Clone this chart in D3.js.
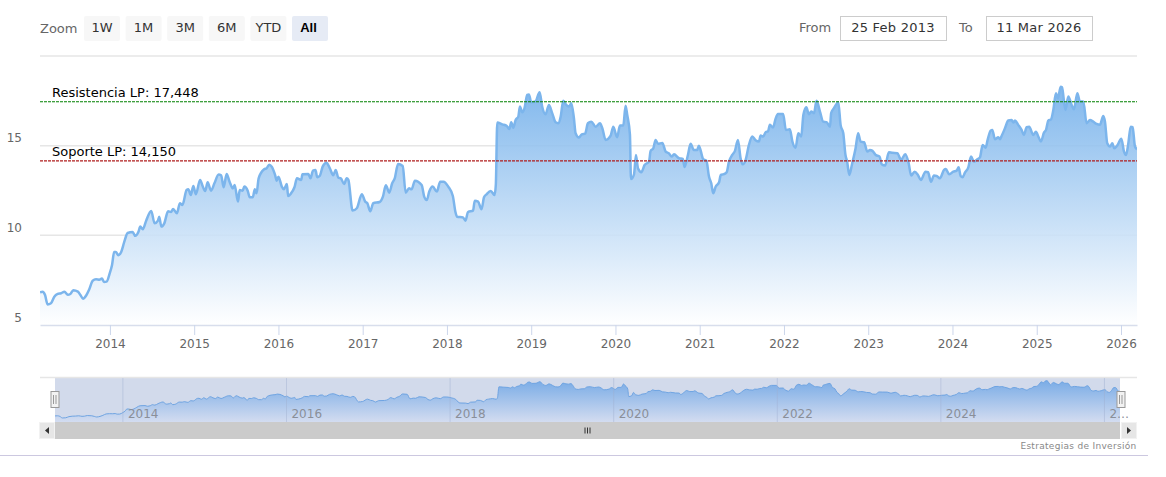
<!DOCTYPE html>
<html lang="en">
<head>
<meta charset="utf-8">
<title>Soporte y Resistencia</title>
<script src="https://cdnjs.cloudflare.com/ajax/libs/d3/7.8.5/d3.min.js"></script>
<style>
body { margin: 0; background: #fff; }
svg { display: block; font-family: "DejaVu Sans", sans-serif; }
</style>
</head>
<body>
<script>
// decimal years and prices
var years = [
	2013.17,2013.20,2013.23,2013.26,2013.30,2013.34,2013.38,2013.42,2013.46,2013.50,2013.53,2013.565,2013.62,2013.65,2013.68,2013.72,2013.755,2013.795,2013.835,2013.875,2013.905,2013.93,2013.96,
	2014.00,2014.025,2014.05,2014.07,2014.10,2014.135,2014.17,2014.21,2014.27,2014.30,2014.34,2014.36,2014.39,2014.43,2014.49,2014.53,2014.57,2014.585,2014.61,2014.645,2014.69,2014.725,2014.75,2014.795,2014.83,2014.86,2014.91,2014.93,2014.96,2014.99,
	2015.02,2015.07,2015.10,2015.13,2015.16,2015.20,2015.24,2015.29,2015.32,2015.35,2015.385,2015.42,2015.46,2015.48,2015.52,2015.54,2015.575,2015.595,2015.635,2015.66,2015.695,2015.72,2015.74,2015.765,2015.83,2015.86,2015.89,2015.92,2015.96,2015.98,
	2016.00,2016.04,2016.065,2016.10,2016.115,2016.145,2016.19,2016.22,2016.27,2016.285,2016.355,2016.38,2016.41,2016.44,2016.46,2016.49,2016.525,2016.57,2016.61,2016.65,2016.68,2016.71,2016.74,2016.78,2016.81,2016.83,2016.88,2016.93,2016.99,
	2017.03,2017.055,2017.09,2017.125,2017.20,2017.24,2017.275,2017.315,2017.35,2017.38,2017.42,2017.475,2017.51,2017.55,2017.58,2017.62,2017.70,2017.73,2017.76,2017.79,2017.83,2017.88,2017.92,2017.96,
	2018.015,2018.07,2018.10,2018.12,2018.19,2018.22,2018.25,2018.31,2018.33,2018.37,2018.41,2018.44,2018.47,2018.52,2018.565,2018.58,2018.597,2018.657,2018.71,2018.74,2018.763,2018.787,2018.815,2018.847,2018.866,2018.894,2018.92,2018.953,2018.973,
	2019.00,2019.05,2019.10,2019.13,2019.17,2019.21,2019.25,2019.29,2019.32,2019.35,2019.38,2019.416,2019.448,2019.476,2019.507,2019.527,2019.567,2019.60,2019.64,2019.673,2019.713,2019.765,2019.816,2019.844,2019.883,2019.943,2019.974,
	2020.02,2020.053,2020.093,2020.12,2020.14,2020.172,2020.184,2020.22,2020.243,2020.267,2020.307,2020.346,2020.398,2020.417,2020.449,2020.477,2020.505,2020.556,2020.596,2020.635,2020.667,2020.695,2020.754,2020.80,2020.82,2020.86,2020.892,2020.93,2020.97,2020.99,
	2021.04,2021.08,2021.11,2021.137,2021.16,2021.19,2021.23,2021.25,2021.287,2021.32,2021.347,2021.386,2021.418,2021.454,2021.485,2021.51,2021.545,2021.584,2021.624,2021.663,2021.703,2021.723,2021.754,2021.782,2021.81,2021.833,2021.87,2021.90,2021.928,2021.99,
	2022.023,2022.07,2022.10,2022.138,2022.17,2022.205,2022.23,2022.265,2022.296,2022.324,2022.356,2022.387,2022.427,2022.466,2022.506,2022.546,2022.56,2022.593,2022.645,2022.672,2022.704,2022.73,2022.75,2022.775,2022.81,2022.85,2022.88,2022.91,2022.95,2022.99,
	2023.02,2023.05,2023.09,2023.135,2023.16,2023.20,2023.245,2023.285,2023.345,2023.39,2023.44,2023.48,2023.51,2023.55,2023.59,2023.625,2023.68,2023.71,2023.745,2023.78,2023.812,2023.85,2023.90,2023.92,2023.962,
	2024.01,2024.05,2024.073,2024.097,2024.12,2024.148,2024.188,2024.22,2024.255,2024.295,2024.326,2024.358,2024.394,2024.417,2024.453,2024.473,2024.504,2024.544,2024.564,2024.583,2024.623,2024.662,2024.702,2024.722,2024.742,2024.78,2024.82,2024.848,2024.88,2024.91,2024.96,2024.99,
	2025.02,2025.05,2025.086,2025.11,2025.137,2025.17,2025.197,2025.228,2025.252,2025.284,2025.30,2025.34,2025.375,2025.414,2025.442,2025.482,2025.513,2025.553,2025.592,2025.632,2025.67,2025.71,2025.75,2025.79,2025.81,2025.837,2025.87,2025.897,2025.92,2025.96,
	2026.004,2026.036,2026.06,2026.087,2026.115,2026.138,2026.166,2026.19
];
var prices = [
	6.82,6.86,6.67,6.15,6.21,6.58,6.73,6.77,6.86,6.69,6.73,6.94,6.86,6.67,6.47,6.66,6.99,7.47,7.55,7.53,7.59,7.40,7.42,
	7.92,8.35,9.07,9.07,8.89,9.09,9.63,10.13,10.19,9.97,10.21,10.49,10.34,10.82,11.36,10.67,10.82,11.04,10.49,10.67,11.34,11.30,11.47,11.23,11.79,11.69,12.53,12.57,12.25,12.75,
	12.29,13.09,12.75,12.47,12.96,12.49,12.90,13.39,13.35,12.68,13.42,12.99,12.62,12.81,11.88,12.53,12.49,12.72,12.49,12.12,12.12,12.57,12.34,13.18,13.68,13.74,13.94,13.83,13.37,13.05,
	13.27,12.72,12.57,12.86,12.19,12.31,12.68,13.18,13.09,13.40,13.42,13.18,13.61,13.64,13.24,13.31,13.83,14.05,13.74,13.35,13.64,13.22,13.18,12.86,13.18,13.09,11.38,11.51,12.29,
	11.88,11.79,11.34,11.79,11.86,12.16,12.79,12.38,12.90,13.18,13.98,13.87,12.38,12.62,12.57,13.05,12.81,12.16,11.97,12.44,12.72,12.44,12.99,12.99,
	12.72,12.19,11.32,11.04,11.00,10.82,11.30,11.38,11.93,11.88,11.45,12.12,12.29,12.47,12.25,12.81,16.29,16.19,16.10,15.93,16.30,16.00,16.43,16.62,17.18,16.86,17.08,17.83,17.86,
	17.42,17.46,17.98,17.18,16.75,17.27,16.80,16.30,16.25,16.62,17.51,17.27,17.18,17.36,16.53,15.69,15.45,15.63,15.67,16.25,16.34,16.06,16.25,15.97,15.32,15.56,16.06,
	15.47,16.12,16.12,17.23,16.71,15.60,13.14,13.40,14.48,13.74,13.52,13.92,14.11,14.70,14.85,15.32,15.10,15.15,14.67,14.57,14.39,14.52,14.30,14.26,13.81,14.48,15.10,14.76,14.76,15.00,
	14.26,14.15,13.28,12.90,12.35,12.72,12.96,13.37,13.41,13.52,14.11,14.48,14.71,15.32,14.30,13.96,14.21,15.04,15.51,15.30,15.23,15.56,15.51,15.75,15.79,16.16,16.01,16.49,16.77,16.77,
	15.88,15.91,15.23,14.89,15.69,15.51,16.71,17.14,16.75,16.90,16.81,17.50,16.90,16.34,16.31,16.06,16.81,17.09,17.42,16.16,15.69,14.48,14.11,13.37,14.02,14.86,15.69,15.23,15.19,14.67,
	14.76,14.71,14.48,14.39,13.96,13.89,14.63,14.60,14.58,14.21,14.52,14.02,13.33,13.55,13.37,13.09,13.55,13.52,12.99,13.33,13.31,13.18,13.65,13.70,13.40,
	13.55,13.61,13.79,13.31,13.24,13.50,13.79,14.39,14.11,14.24,14.35,15.04,14.89,15.32,15.84,15.88,15.36,15.47,15.36,15.54,15.97,16.40,16.43,16.29,16.40,16.16,15.88,15.60,16.03,16.06,15.60,15.78,
	15.50,15.23,15.73,15.88,16.40,16.47,16.99,17.92,17.64,18.29,18.26,16.99,17.74,17.27,17.03,17.92,17.46,17.46,16.25,16.43,16.34,16.21,16.16,16.66,16.34,15.13,14.95,15.13,14.85,15.04,
	15.39,14.67,14.48,15.13,16.06,16.03,14.95,14.80
];
var series = years.map(function(d, i){ return {year: d, price: prices[i]}; });

var yearTicks = [2014,2015,2016,2017,2018,2019,2020,2021,2022,2023,2024,2025,2026];
var navTicks = [2014,2016,2018,2020,2022,2024,2026];
var priceTicks = [5,10,15];
var gridPrices = [10,15,20];

var resistencia = 17.448;
var soporte = 14.15;

var zoomButtons = ["1W","1M","3M","6M","YTD","All"];

var W = 1166, H = 477;
var left = 40, right = 1137;

var svg = d3.select("body").append("svg").attr("width", W).attr("height", H);

var x = d3.scaleLinear().domain([2013.17, 2026.19]).range([left, right]);
var y = d3.scaleLinear().domain([5, 20]).range([325, 56]);

var defs = svg.append("defs");

function addGradient(id, stops){
	var g = defs.append("linearGradient").attr("id", id)
		.attr("x1", 0).attr("y1", 0).attr("x2", 0).attr("y2", 1);
	stops.forEach(function(s){
		g.append("stop").attr("offset", s[0]).attr("stop-color", s[1]).attr("stop-opacity", s[2]);
	});
}
addGradient("areaFill", [[0, "#70aeea", 0.88], [1, "#ffffff", 0.88]]);
addGradient("navFill", [[0, "#7aace6", 1], [1, "#d3dcf0", 1]]);

defs.append("clipPath").attr("id", "plotClip").append("rect")
	.attr("x", left).attr("y", 40).attr("width", right - left).attr("height", 290);

// horizontal grid
svg.append("g").selectAll("line").data(gridPrices).enter().append("line")
	.attr("x1", left).attr("x2", right)
	.attr("y1", function(d){ return y(d); })
	.attr("y2", function(d){ return y(d); })
	.attr("stroke", "#e6e6e6").attr("stroke-width", 1.5);

var area = d3.area()
	.x(function(d){ return x(d.year); })
	.y0(y(5))
	.y1(function(d){ return y(d.price); })
	.curve(d3.curveMonotoneX);
var line = area.lineY1();

var plot = svg.append("g").attr("clip-path", "url(#plotClip)");
plot.append("path").datum(series).attr("d", area).attr("fill", "url(#areaFill)");
plot.append("path").datum(series).attr("d", line)
	.attr("fill", "none").attr("stroke", "#7cb5ec").attr("stroke-width", 2.5);

// x axis
var xAxis = svg.append("g").attr("transform", "translate(0," + y(5) + ")")
	.call(d3.axisBottom(x).tickValues(yearTicks).tickFormat(d3.format("d")).tickSize(10).tickSizeOuter(0));
xAxis.select(".domain").attr("stroke", "#d8deec").attr("stroke-width", 1.5);
xAxis.selectAll(".tick line").attr("stroke", "#ccd6eb");
xAxis.selectAll(".tick text").attr("y", 14).attr("dy", "0.71em")
	.attr("fill", "#666").style("font-size", "12px").style("font-family", "DejaVu Sans");

// y axis labels
var yAxis = svg.append("g").attr("transform", "translate(22,0)")
	.call(d3.axisLeft(y).tickValues(priceTicks).tickFormat(d3.format("d")).tickSize(0));
yAxis.select(".domain").remove();
yAxis.selectAll(".tick text").attr("x", 0).attr("dy", "-4px")
	.attr("fill", "#666").style("font-size", "12px").style("font-family", "DejaVu Sans");

// support / resistance
function levelLine(value, colour, label){
	svg.append("line")
		.attr("x1", left).attr("x2", right)
		.attr("y1", y(value)).attr("y2", y(value))
		.attr("stroke", colour).attr("stroke-width", 1.2)
		.attr("stroke-dasharray", "3,1");
	svg.append("text")
		.attr("x", 52).attr("y", y(value) - 5)
		.attr("fill", "#000").style("font-size", "13px")
		.text(label);
}
levelLine(resistencia, "#008000", "Resistencia LP: 17,448");
levelLine(soporte, "#b01c1c", "Soporte LP: 14,150");

// range selector
svg.append("text").attr("x", 40).attr("y", 33).attr("fill", "#666").style("font-size", "13px").text("Zoom");

var btnStep = 41.6;
var btn = svg.append("g").selectAll("g").data(zoomButtons).enter().append("g")
	.attr("transform", function(d, i){ return "translate(" + (84 + i * btnStep) + ",16)"; });
btn.append("rect").attr("width", 36).attr("height", 25).attr("rx", 2)
	.attr("fill", function(d){ return d === "All" ? "#e6ebf5" : "#f7f7f7"; });
btn.append("text").attr("x", function(d){ return d === "All" ? 16.5 : 18; }).attr("y", 16).attr("text-anchor", "middle")
	.attr("fill", function(d){ return d === "All" ? "#000" : "#333"; })
	.style("font-size", "13px")
	.style("font-weight", function(d){ return d === "All" ? "bold" : "normal"; })
	.style("font-family", function(d){ return d === "All" ? "Liberation Sans" : null; })
	.text(function(d){ return d; });

svg.append("text").attr("x", 799).attr("y", 32).attr("fill", "#666").style("font-size", "13px").text("From");
svg.append("text").attr("x", 959).attr("y", 32).attr("fill", "#666").style("font-size", "13px").text("To");

function dateBox(bx, label){
	svg.append("rect").attr("x", bx + 0.5).attr("y", 16.5).attr("width", 106).attr("height", 24)
		.attr("fill", "#fff").attr("stroke", "#ccc");
	svg.append("text").attr("x", bx + 53).attr("y", 32).attr("text-anchor", "middle")
		.attr("fill", "#333").style("font-size", "13px").style("letter-spacing", "0.25px").text(label);
}
dateBox(840, "25 Feb 2013");
dateBox(986, "11 Mar 2026");

// navigator
var navLeft = 55, navRight = 1120, navTop = 378, navBottom = 422;
var nx = d3.scaleLinear().domain([2013.17, 2026.19]).range([navLeft, navRight]);
var ny = d3.scaleLinear().domain([5, 18.3]).range([421.5, 380.7]);

svg.append("rect").attr("x", navLeft).attr("y", navTop).attr("width", navRight - navLeft).attr("height", navBottom - navTop)
	.attr("fill", "#d2daeb");
svg.append("line").attr("x1", left).attr("x2", right).attr("y1", navTop - 0.5).attr("y2", navTop - 0.5)
	.attr("stroke", "#e6e6e6").attr("stroke-width", 1.5);

var navArea = d3.area()
	.x(function(d){ return nx(d.year); })
	.y0(navBottom)
	.y1(function(d){ return ny(d.price); })
	.curve(d3.curveMonotoneX);
svg.append("path").datum(series).attr("d", navArea).attr("fill", "url(#navFill)");
svg.append("path").datum(series).attr("d", navArea.lineY1())
	.attr("fill", "none").attr("stroke", "#6fa4e2").attr("stroke-width", 1);

var navTick = svg.append("g").selectAll("g").data(navTicks).enter().append("g");
navTick.append("line")
	.attr("x1", function(d){ return nx(d); }).attr("x2", function(d){ return nx(d); })
	.attr("y1", navTop).attr("y2", navBottom)
	.attr("stroke", "#9fb0d0").attr("stroke-opacity", 0.45);
navTick.append("text")
	.attr("x", function(d){ return nx(d) + 5; }).attr("y", 418)
	.attr("fill", "#8a8f99").style("font-size", "12px")
	.text(function(d){ return d === 2026 ? "2…" : d; });

// scrollbar
svg.append("rect").attr("x", navLeft).attr("y", navBottom).attr("width", navRight - navLeft).attr("height", 17).attr("fill", "#cbcbcb");
function scrollButton(bx, points){
	svg.append("rect").attr("x", bx + 0.5).attr("y", navBottom + 0.5).attr("width", 15).attr("height", 16)
		.attr("fill", "#e6e6e6").attr("stroke", "#f2f2f2");
	svg.append("path").attr("d", d3.line()(points)).attr("fill", "#333");
}
scrollButton(39, [[49, 427], [49, 434], [45, 430.5]]);
scrollButton(1121, [[1127, 427], [1127, 434], [1131, 430.5]]);
[585, 587.5, 590].forEach(function(gx){
	svg.append("line").attr("x1", gx).attr("x2", gx).attr("y1", 427.5).attr("y2", 433.5).attr("stroke", "#333").attr("stroke-width", 1);
});

function navHandle(cx){
	svg.append("rect").attr("x", cx - 3.5).attr("y", 391.5).attr("width", 8).attr("height", 16)
		.attr("fill", "#f2f2f2").attr("stroke", "#999");
	[cx - 1, cx + 1.5].forEach(function(gx){
		svg.append("line").attr("x1", gx).attr("x2", gx).attr("y1", 395).attr("y2", 404).attr("stroke", "#999");
	});
}
navHandle(54.5);
navHandle(1120.5);

svg.append("text").attr("x", 1136.5).attr("y", 449).attr("text-anchor", "end")
	.attr("fill", "#888").style("font-size", "9px").style("letter-spacing", "0.3px")
	.text("Estrategias de Inversión");

svg.append("line").attr("x1", 0).attr("x2", 1148).attr("y1", 455.5).attr("y2", 455.5).attr("stroke", "#ccc8e0");
</script>
</body>
</html>
